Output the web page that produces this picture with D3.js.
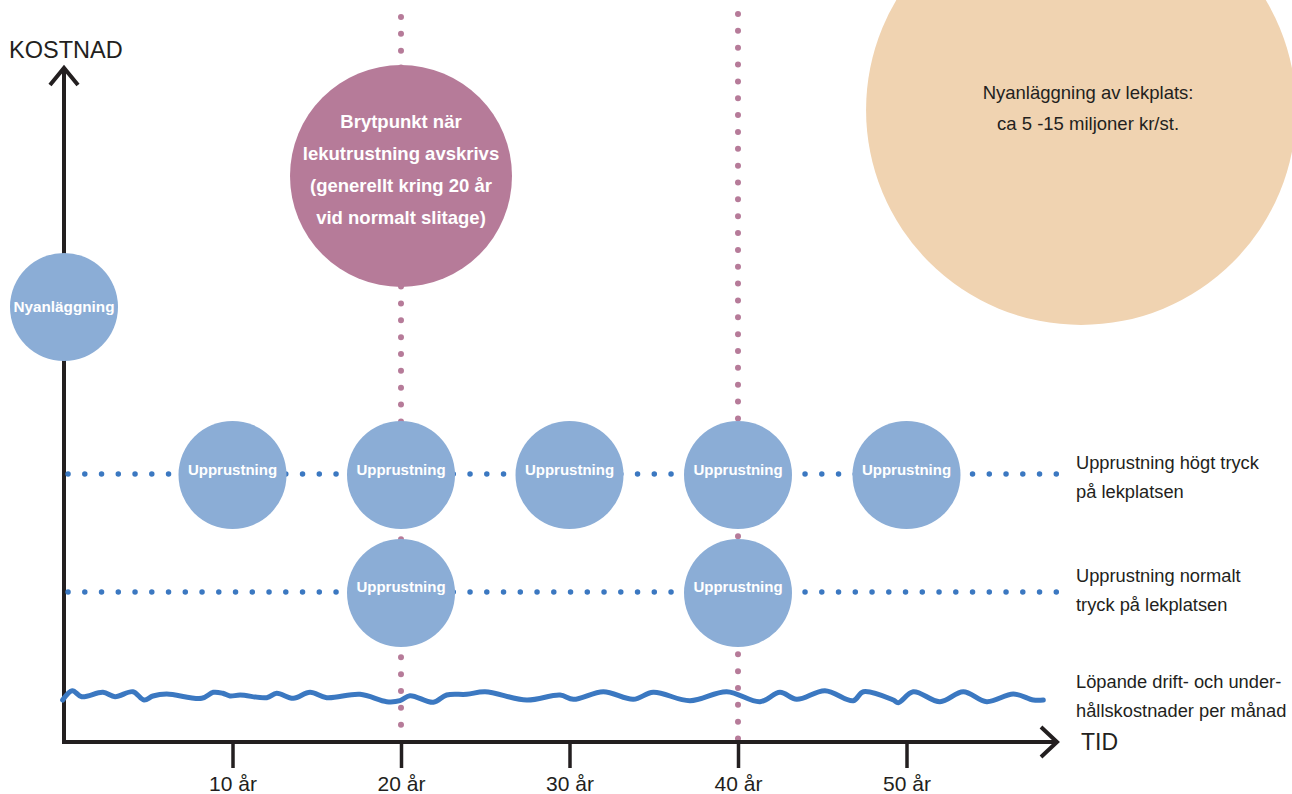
<!DOCTYPE html>
<html>
<head>
<meta charset="utf-8">
<script src="https://cdn.jsdelivr.net/npm/d3@7"></script>
<style>
  html, body { margin: 0; padding: 0; background: #fff; }
  svg { display: block; font-family: "Liberation Sans", Arial, Helvetica, sans-serif; }
</style>
</head>
<body>
<svg id="chart" width="1292" height="794"></svg>
<script>
// years on the x axis, cost level on the y axis (arbitrary units)
const tickYears = [10, 20, 30, 40, 50]
const tickLabels = ['10 år', '20 år', '30 år', '40 år', '50 år']

const highYears = [10, 20, 30, 40, 50]   // upprustning, högt tryck
const highLevel = 26.7
const normalYears = [20, 40]             // upprustning, normalt tryck
const normalLevel = 14.9
const newBuild = { year: 0, level: 43.5 }
const breakPoint = { year: 20, level: 56.6 }
const bigNew = { year: 60.36, level: 63.2 }
const breakLines = [
  { year: 20, from: 1.4, to: 72.5 },
  { year: 40, from: -1.3, to: 72.8 }
]

// löpande drift
const runYears = [-0.08, 0.49, 1.05, 2.31, 3.03, 4.09, 4.75, 5.28, 6.09, 8.17, 8.86, 9.42, 9.85,
  10.45, 12.03, 12.62, 13.61, 14.6, 15.59, 17.57, 19.15, 19.94, 20.53, 21.92, 22.71, 23.9,
  24.99, 27.46, 29.44, 30.23, 32.01, 33.79, 34.97, 37.15, 39.33, 41.31, 42.49, 43.48, 45.16,
  46.84, 47.44, 49.22, 49.51, 50.4, 51.99, 53.37, 54.76, 56.34, 57.53, 58.12]
const runCost = [4.2, 5.13, 4.53, 4.97, 4.53, 5.03, 4.2, 4.6, 4.8, 4.37, 4.97, 4.87, 4.6,
  4.7, 4.43, 4.87, 4.37, 4.97, 4.43, 4.77, 4.03, 4.13, 4.63, 3.97, 4.7, 4.77,
  5.03, 4.2, 4.7, 4.27, 5.03, 4.27, 4.97, 4.13, 5.03, 4.03, 4.97, 4.27, 5.13,
  4.13, 5.03, 4.2, 3.93, 5.03, 4.03, 5.03, 4.03, 4.8, 4.2, 4.2]

// right-hand labels, level = first baseline
const legendLines = [
  { level: 27.3, lines: ['Upprustning högt tryck', 'på lekplatsen'] },
  { level: 16.0, lines: ['Upprustning normalt', 'tryck på lekplatsen'] },
  { level: 5.4, lines: ['Löpande drift- och under-', 'hållskostnader per månad'] }
]

const blue = '#3b78c1'
const circleBlue = '#8badd6'
const pink = '#b67b99'
const orange = '#f0d3b1'
const ink = '#231f20'

const svg = d3.select('#chart')

const x = d3.scaleLinear().domain([0, 60]).range([64, 1075])
const y = d3.scaleLinear().domain([0, 67.4]).range([742, 68])

// big orange circle (behind everything)
svg.append('circle')
  .attr('cx', x(bigNew.year)).attr('cy', y(bigNew.level)).attr('r', 215)
  .attr('fill', orange)
svg.append('text')
  .attr('text-anchor', 'middle').attr('fill', ink).attr('font-size', 18.5)
  .selectAll('tspan')
  .data(['Nyanläggning av lekplats:', 'ca 5 -15 miljoner kr/st.'])
  .join('tspan')
  .attr('x', x(bigNew.year) + 7)
  .attr('y', (d, i) => y(bigNew.level) - 11 + i * 31)
  .text(d => d)

// pink dotted verticals
svg.selectAll('line.brk')
  .data(breakLines)
  .join('line')
  .attr('class', 'brk')
  .attr('x1', d => x(d.year)).attr('x2', d => x(d.year))
  .attr('y1', d => y(d.to)).attr('y2', d => y(d.from))
  .attr('stroke', pink).attr('stroke-width', 6)
  .attr('stroke-linecap', 'round')
  .attr('stroke-dasharray', '0 16.85')

// axes
const axes = svg.append('g').attr('stroke', ink).attr('stroke-width', 4).attr('fill', 'none')
axes.append('line').attr('x1', x(0)).attr('x2', x(0)).attr('y1', y(0) + 2).attr('y2', y(67.3))
axes.append('line').attr('x1', x(0) - 2).attr('x2', 1055).attr('y1', y(0)).attr('y2', y(0))
axes.append('path').attr('d', `M${x(0) - 14},${y(67.4) + 17}L${x(0)},${y(67.4)}L${x(0) + 14},${y(67.4) + 17}`)
axes.append('path').attr('d', `M1041,${y(0) - 15}L1057,${y(0)}L1041,${y(0) + 15}`)

const xAxis = d3.axisBottom(x).tickValues(tickYears).tickFormat((d, i) => tickLabels[i])
  .tickSize(26).tickPadding(8)
const gx = svg.append('g').attr('transform', `translate(0,${y(0)})`).call(xAxis)
gx.select('.domain').remove()
gx.selectAll('.tick line').attr('stroke', ink).attr('stroke-width', 3.5)
gx.selectAll('.tick text').attr('fill', ink).attr('font-size', 21)
  .attr('font-family', '"Liberation Sans", Arial, sans-serif')

svg.append('text').attr('x', 9).attr('y', 58).attr('fill', ink).attr('font-size', 23.5).text('KOSTNAD')
svg.append('text').attr('x', 1081).attr('y', 750).attr('fill', ink).attr('font-size', 23).text('TID')

// blue dotted horizontals
svg.selectAll('line.lvl')
  .data([highLevel, normalLevel])
  .join('line')
  .attr('class', 'lvl')
  .attr('x1', x(0.24)).attr('x2', x(59.4))
  .attr('y1', d => y(d) - 1).attr('y2', d => y(d) - 1)
  .attr('stroke', blue).attr('stroke-width', 5.5)
  .attr('stroke-linecap', 'round')
  .attr('stroke-dasharray', '0 16.75')

// wavy running-cost line
const runLine = d3.line()
  .x((d, i) => x(runYears[i]))
  .y(d => y(d))
  .curve(d3.curveCatmullRom)
svg.append('path')
  .attr('d', runLine(runCost))
  .attr('fill', 'none').attr('stroke', blue).attr('stroke-width', 5)
  .attr('stroke-linecap', 'round')

// circles
const bubbles = []
  .concat([{ year: newBuild.year, level: newBuild.level, label: 'Nyanläggning', dy: 5, size: 15.3 }])
  .concat(highYears.map(v => ({ year: v, level: highLevel, label: 'Upprustning', dy: 0, size: 15 })))
  .concat(normalYears.map(v => ({ year: v, level: normalLevel, label: 'Upprustning', dy: -1, size: 15 })))

svg.selectAll('circle.bub')
  .data(bubbles)
  .join('circle')
  .attr('class', 'bub')
  .attr('cx', d => x(d.year)).attr('cy', d => y(d.level))
  .attr('r', 54).attr('fill', circleBlue)
svg.selectAll('text.bub')
  .data(bubbles)
  .join('text')
  .attr('class', 'bub')
  .attr('x', d => x(d.year)).attr('y', d => y(d.level) + d.dy)
  .attr('text-anchor', 'middle').attr('fill', '#fff')
  .attr('font-weight', 'bold').attr('font-size', d => d.size)
  .text(d => d.label)

// breakpoint circle
svg.append('circle')
  .attr('cx', x(breakPoint.year)).attr('cy', y(breakPoint.level)).attr('r', 111)
  .attr('fill', pink)
svg.append('text')
  .attr('text-anchor', 'middle').attr('fill', '#fff')
  .attr('font-weight', 'bold').attr('font-size', 18.5)
  .selectAll('tspan')
  .data(['Brytpunkt när', 'lekutrustning avskrivs', '(generellt kring 20 år', 'vid normalt slitage)'])
  .join('tspan')
  .attr('x', x(breakPoint.year))
  .attr('y', (d, i) => y(breakPoint.level) - 48 + i * 32)
  .text(d => d)

// labels on the right
const leg = svg.selectAll('g.leg')
  .data(legendLines)
  .join('g')
  .attr('class', 'leg')
  .attr('transform', d => `translate(1076,${y(d.level)})`)
leg.selectAll('text')
  .data(d => d.lines)
  .join('text')
  .attr('x', 0)
  .attr('y', (d, i) => i * 29)
  .attr('fill', ink).attr('font-size', 18.3)
  .text(d => d)
</script>
</body>
</html>
